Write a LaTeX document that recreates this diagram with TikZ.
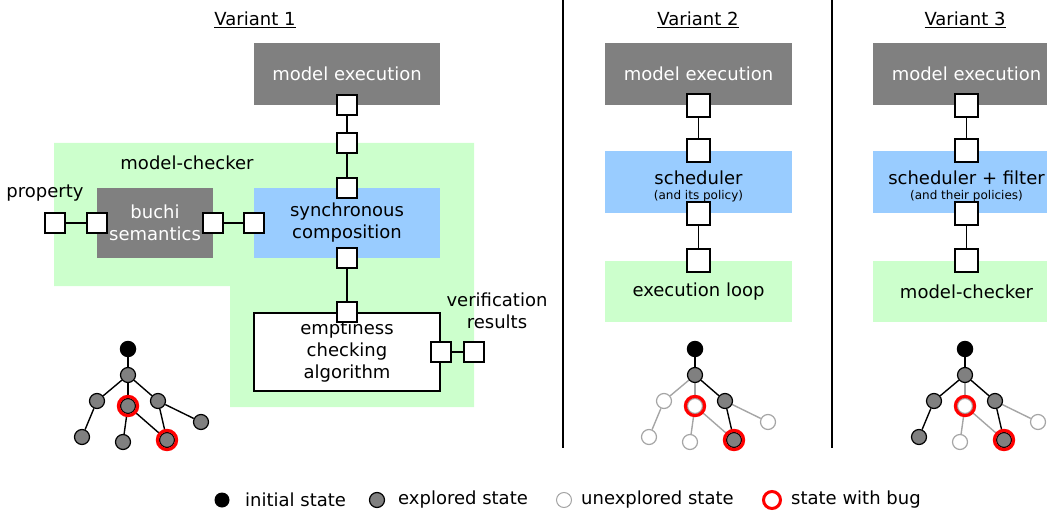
\documentclass[tikz,border=0pt]{standalone}
\usepackage{fontspec}
\setmainfont{DejaVu Sans}
\usetikzlibrary{backgrounds}

\definecolor{boxgray}{RGB}{128,128,128}
\definecolor{compblue}{RGB}{153,204,255}
\definecolor{checkgreen}{RGB}{204,255,204}
\definecolor{fadegray}{RGB}{165,165,165}

\tikzset{
	comp/.style={minimum width=186, minimum height=62, inner sep=0, align=center},
	execbox/.style={comp, fill=boxgray, text=white},
	schedbox/.style={comp, fill=compblue},
	loopbox/.style={comp, fill=checkgreen},
	port/.style={draw, fill=white, line width=1.7, minimum size=20, inner sep=0},
	bigport/.style={port, minimum size=23},
	link/.style={line width=1.8},
	initial/.style={circle, fill=black, minimum size=16.5, inner sep=0},
	explored/.style={circle, draw, fill=boxgray, line width=1.2, minimum size=15, inner sep=0},
	unexplored/.style={circle, draw=fadegray, fill=white, line width=1.2, minimum size=15, inner sep=0},
	bugring/.style={draw=red, line width=3.2},
	seen/.style={line width=1.4},
	unseen/.style={line width=1.4, draw=fadegray},
	legtext/.style={anchor=west, inner sep=0}
}

\begin{document}
\begin{tikzpicture}[x=1pt, y=-1pt, font=\fontsize{18}{22}\selectfont]
				\useasboundingbox (0,0) rectangle (1047,516);
				\clip (0,0) rectangle (1047,516);
				% titles and separators
				\node (t1) at (255,20) {\underline{Variant 1}};
				\node (t2) at (698,20) {\underline{Variant 2}};
				\node (t3) at (965,20) {\underline{Variant 3}};
				\draw [link] (563,0) to (563,448);
				\draw [link] (832,0) to (832,448);
				% variant 1
				\fill [checkgreen] (54,143) -- (474,143) -- (474,407) -- (230,407) -- (230,286) -- (54,286) -- cycle;
				\node (mc) at (187,163) {model-checker};
				\node (prop) at (45,193) {property};
				\node [align=center] (vr) at (497,311) {verification\\results};
				\node [execbox] (me1) at (347,74) {model execution};
				\node [execbox, minimum width=116, minimum height=70] (bu) at (155,223) {buchi\\semantics};
				\node [schedbox, minimum height=70] (sy) at (347,223) {synchronous\\composition};
				\node [comp, draw, line width=1.7, fill=white, minimum height=78] (em) at (347,352) {emptiness\\checking\\algorithm};
				\node [port] (pme1) at (me1.south) {};
				\node [port] (pg1) at (347,143) {};
				\node [port] (psy1) at (sy.north) {};
				\node [port] (psy2) at (sy.south) {};
				\node [port] (psy3) at (sy.west) {};
				\node [port] (pbu1) at (bu.west) {};
				\node [port] (pbu2) at (bu.east) {};
				\node [port] (pprop) at (55,223) {};
				\node [port] (pem1) at (em.north) {};
				\node [port] (pem2) at (em.east) {};
				\node [port] (pg2) at (474,352) {};
				\draw [link] (pme1) to (pg1) to (psy1);
				\draw [link] (pprop) to (pbu1);
				\draw [link] (pbu2) to (psy3);
				\draw [link] (psy2) to (pem1);
				\draw [link] (pem2) to (pg2);
				% variant 2
				\node [execbox, minimum width=187] (me2) at (698.5,74) {model execution};
				\node [schedbox, minimum width=187] (sc2) at (698.5,182) {\rule{0pt}{22pt}scheduler\\[-7pt]{\fontsize{12}{13}\selectfont (and its policy)}};
				\node [loopbox, minimum width=187, minimum height=61] (lp2) at (698.5,291.5) {execution loop};
				\node [bigport] (pme2) at (me2.south) {};
				\node [bigport] (psc2a) at (sc2.north) {};
				\node [bigport] (psc2b) at (sc2.south) {};
				\node [bigport] (plp2) at (lp2.north) {};
				\draw [link] (pme2) to (psc2a);
				\draw [link] (psc2b) to (plp2);
				% variant 3
				\node [execbox, minimum width=187] (me3) at (966.5,74) {model execution};
				\node [schedbox, minimum width=187] (sc3) at (966.5,182) {\rule{0pt}{22pt}scheduler + filter\\[-7pt]{\fontsize{12}{13}\selectfont (and their policies)}};
				\node [loopbox, minimum width=187, minimum height=61] (lp3) at (966.5,291.5) {model-checker};
				\node [bigport] (pme3) at (me3.south) {};
				\node [bigport] (psc3a) at (sc3.north) {};
				\node [bigport] (psc3b) at (sc3.south) {};
				\node [bigport] (plp3) at (lp3.north) {};
				\draw [link] (pme3) to (psc3a);
				\draw [link] (psc3b) to (plp3);
				% state trees
				\node [initial] (ar) at (128,349) {};
				\node [explored] (a1) at (128,375) {};
				\node [explored] (a2) at (97,401) {};
				\node [explored] (a3) at (128,406) {};
				\node [explored] (a4) at (158,401) {};
				\node [explored] (a5) at (82,437) {};
				\node [explored] (a6) at (123,442) {};
				\node [explored] (a7) at (167,440) {};
				\node [explored] (a8) at (201,422) {};
				\draw [bugring] (a3) circle (9.6pt);
				\draw [bugring] (a7) circle (9.6pt);
				\node [initial] (br) at (695,349) {};
				\node [explored] (b1) at (695,375) {};
				\node [unexplored] (b2) at (664,401) {};
				\node [unexplored] (b3) at (695,406) {};
				\node [explored] (b4) at (725,401) {};
				\node [unexplored] (b5) at (649,437) {};
				\node [unexplored] (b6) at (690,442) {};
				\node [explored] (b7) at (734,440) {};
				\node [unexplored] (b8) at (768,422) {};
				\draw [bugring] (b3) circle (9.6pt);
				\draw [bugring] (b7) circle (9.6pt);
				\node [initial] (cr) at (965,349) {};
				\node [explored] (c1) at (965,375) {};
				\node [explored] (c2) at (934,401) {};
				\node [unexplored] (c3) at (965,406) {};
				\node [explored] (c4) at (995,401) {};
				\node [explored] (c5) at (919,437) {};
				\node [unexplored] (c6) at (960,442) {};
				\node [explored] (c7) at (1004,440) {};
				\node [unexplored] (c8) at (1038,422) {};
				\draw [bugring] (c3) circle (9.6pt);
				\draw [bugring] (c7) circle (9.6pt);
				\begin{scope}[on background layer]
					\draw [seen] (ar) to (a1);
					\draw [seen] (a1) to (a2);
					\draw [seen] (a1) to (a3);
					\draw [seen] (a1) to (a4);
					\draw [seen] (a2) to (a5);
					\draw [seen] (a3) to (a6);
					\draw [seen] (a3) to (a7);
					\draw [seen] (a4) to (a7);
					\draw [seen] (a4) to (a8);
					\draw [seen] (br) to (b1);
					\draw [unseen] (b1) to (b2);
					\draw [unseen] (b1) to (b3);
					\draw [seen] (b1) to (b4);
					\draw [unseen] (b2) to (b5);
					\draw [unseen] (b3) to (b6);
					\draw [unseen] (b3) to (b7);
					\draw [seen] (b4) to (b7);
					\draw [unseen] (b4) to (b8);
					\draw [seen] (cr) to (c1);
					\draw [seen] (c1) to (c2);
					\draw [unseen] (c1) to (c3);
					\draw [seen] (c1) to (c4);
					\draw [seen] (c2) to (c5);
					\draw [unseen] (c3) to (c6);
					\draw [unseen] (c3) to (c7);
					\draw [seen] (c4) to (c7);
					\draw [unseen] (c4) to (c8);
				\end{scope}
				% legend
				\node [initial, minimum size=15] (li) at (222,500) {};
				\node [explored] (le) at (377,500) {};
				\node [unexplored, line width=1] (lu) at (564,500) {};
				\draw [bugring, line width=3] (772,500) circle (8.5pt);
				\node [legtext] (lti) at (245,500) {initial state};
				\node [legtext] (lte) at (398,500) {explored state};
				\node [legtext] (ltu) at (581,500) {unexplored state};
				\node [legtext] (ltb) at (791,500) {state with bug};
			\end{tikzpicture}
\end{document}
